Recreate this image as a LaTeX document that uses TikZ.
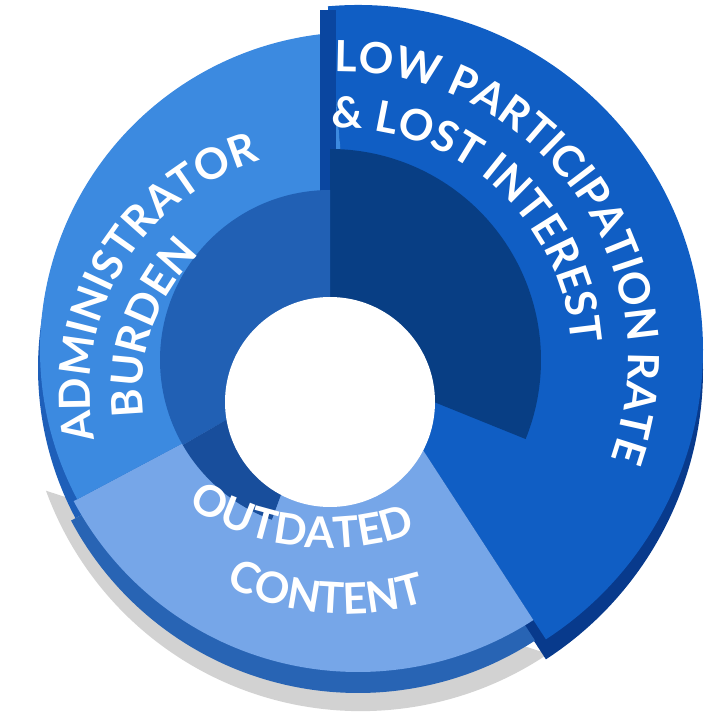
\documentclass[tikz,border=0pt]{standalone}
\usepackage{fontspec}
\setmainfont{Lato}
\usetikzlibrary{decorations.text}
\tikzset{
  lbl/.style={decorate,decoration={text along path,text align=left,text color=white,
     text={#1}}},
}
\newcommand\lf{\fontsize{43}{47}\selectfont\bfseries}
\begin{document}
\begin{tikzpicture}[x=1pt,y=1pt]
\useasboundingbox (0,0) rectangle (718,721);
\coordinate (C) at (358,371);
% shadow / thickness
\fill[gray!35] (C)++(0,-22) ++(-56:340) arc[start angle=-56,end angle=-160,radius=335] -- cycle;
\fill[color={rgb,255:red,8;green,58;blue,140}] (C)++(0,-20) -- ++(95:345) arc[start angle=95,end angle=-57,radius=345] -- cycle;
\fill[color={rgb,255:red,40;green,100;blue,180}] (C)++(0,-18) -- ++(-57:325) arc[start angle=-57,end angle=-152,radius=325] -- cycle;
\fill[color={rgb,255:red,30;green,95;blue,185}] (C)++(0,-18) -- ++(-152:320) arc[start angle=-152,end angle=-265,radius=320] -- cycle;
% top faces
\fill[color={rgb,255:red,16;green,94;blue,196}] (C) -- ++(95:345) arc[start angle=95,end angle=-57,radius=345] -- cycle;
\fill[color={rgb,255:red,118;green,166;blue,232}] (C) -- ++(-57:322) arc[start angle=-57,end angle=-152,radius=322] -- cycle;
\fill[color={rgb,255:red,60;green,138;blue,224}] (C) -- ++(-152:318) arc[start angle=-152,end angle=-265,radius=318] -- cycle;
% raised seam face
\fill[color={rgb,255:red,10;green,70;blue,160}] (320,711) rectangle (336,511);
% inner walls
\coordinate (W) at (330,361);
\fill[color={rgb,255:red,8;green,62;blue,132}] (W) -- ++(90:211) arc[start angle=90,end angle=-22,radius=211] -- cycle;
\fill[color={rgb,255:red,33;green,96;blue,180}] (W) -- ++(90:170) arc[start angle=90,end angle=210,radius=170] -- cycle;
\fill[color={rgb,255:red,24;green,78;blue,156}] (W) -- ++(210:170) arc[start angle=210,end angle=250,radius=170] -- cycle;
% hole
\fill[white] (330,319) circle[radius=105];
% texts
\path[lbl={|\lf|LOW PARTICIPATION RATE}] (340,361) ++(91:288) arc[start angle=91,end angle=-30,radius=288pt];
\path[lbl={|\lf|{\&} LOST INTEREST}] (340,361) ++(92:232) arc[start angle=92,end angle=-20,radius=232pt];
\path[lbl={|\lf|ADMINISTRATOR}] (330,331) ++(192:240) arc[start angle=192,end angle=100,radius=240pt];
\path[lbl={|\lf|BURDEN}] (330,331) ++(188:188) arc[start angle=188,end angle=110,radius=188pt];
\path[lbl={|\lf|OUTDATED}] (328,431) ++(237:258) arc[start angle=237,end angle=300,radius=258pt];
\path[lbl={|\lf|CONTENT}] (346,371) ++(243:264) arc[start angle=243,end angle=310,radius=264pt];
\end{tikzpicture}
\end{document}
